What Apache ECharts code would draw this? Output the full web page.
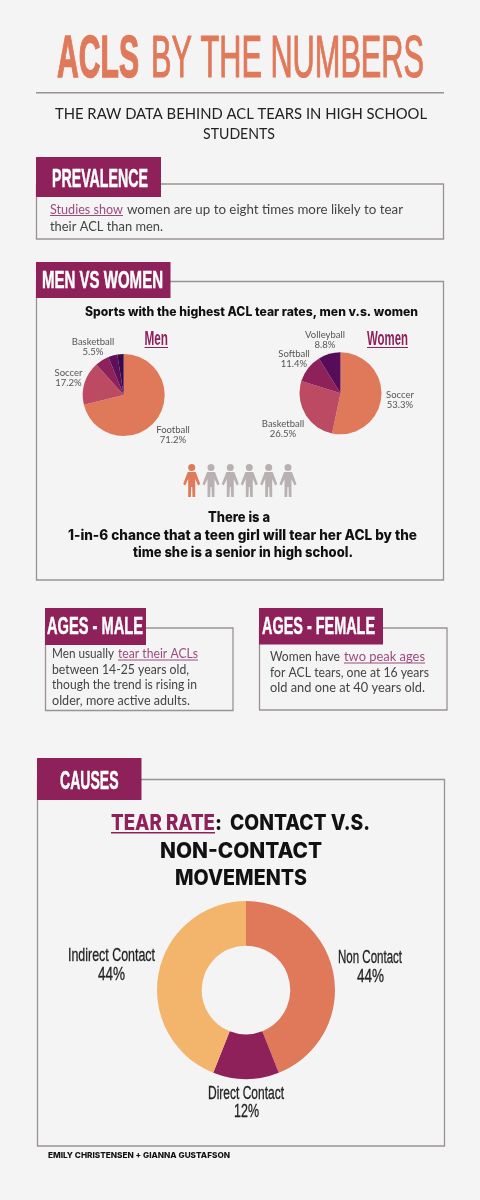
<!DOCTYPE html>
<html><head><meta charset="utf-8">
<style>html,body{margin:0;padding:0;background:#F4F4F4}#c{width:480px;height:1200px}</style>
<script src="https://cdn.jsdelivr.net/npm/echarts@6/dist/echarts.min.js"></script>
</head><body><div id="c"></div>
<script>
const menSports = ['Football','Soccer','Basketball','',''];
const menValues = [71.2,17.2,5.5,3.6,2.5];
const womenSports = ['Soccer','Basketball','Softball','Volleyball'];
const womenValues = [53.3,26.5,11.4,8.8];
const causeNames = ['Non Contact','Direct Contact','Indirect Contact'];
const causeValues = [44,12,44];
const menColors = ['#E0795A','#BC4A62','#8E2159','#5C0F5C','#3A0A48'];
const womenColors = ['#E0795A','#BC4A62','#8E2159','#560C58'];
const causeColors = ['#E0795A','#8E2159','#F2B56B'];
const peopleColors = ['#E0795A','#B9B1B1','#B9B1B1','#B9B1B1','#B9B1B1','#B9B1B1'];
const peopleX = [191.7,211,230.3,249.3,268.7,288];

const NARROW='"Liberation Sans"', BODY='Lato', HEAD='Inter';
const PLUM='#8E2159', LINK='#9C4A7C', EDGE='#9A9290', INK='#444', BLACK='#111';
const ctx=document.createElement('canvas').getContext('2d');
const g=[];
function T(str,x0,x1,yc,size,family,weight,fill,thick){
  ctx.font=`${weight} ${size}px ${family}`;
  const w=ctx.measureText(str).width;
  const style={text:str,fontSize:size,fontFamily:family,fontWeight:weight,fill,textAlign:'left',textVerticalAlign:'middle'};
  if(thick){style.stroke=fill;style.lineWidth=thick;}
  g.push({type:'text',x:x0,y:yc+0.05*size,scaleX:(x1-x0)/w,z:10,silent:true,style});
}
function R(x,y,w,h,fill,z){g.push({type:'rect',z:z||5,silent:true,shape:{x,y,width:w,height:h},style:{fill}});}
function B(x0,y0,x1,y1){g.push({type:'rect',z:1,silent:true,shape:{x:x0,y:y0,width:x1-x0,height:y1-y0},style:{fill:'none',stroke:EDGE,lineWidth:1.3}});}
function U(x0,x1,y,c,h){R(x0,y,x1-x0,h||1,c,9);}

// title
T('ACLS',57,139,57,60,NARROW,'bold','#E0795A',1.5);
T('BY THE NUMBERS',151,424,57,60,NARROW,'normal','#E0795A',1.2);
R(36,92,408,1.4,EDGE);
T('THE RAW DATA BEHIND ACL TEARS IN HIGH SCHOOL',55,427,113.5,15.5,BODY,'normal','#222');
T('STUDENTS',203,275,133.5,15.5,BODY,'normal','#222');
// prevalence
B(36.5,184,443.5,239);
R(36,157,125,40,PLUM);
T('PREVALENCE',52,148,178.5,26,NARROW,'bold','#fff',0.5);
T('Studies show',50,123,209,13.5,BODY,'normal',LINK); U(50,123,215,LINK);
T('women are up to eight times more likely to tear',127,403,209,13.5,BODY,'normal',INK);
T('their ACL than men.',50,163,225.5,13.5,BODY,'normal',INK);
// men vs women
B(36.5,281.5,443.5,580);
R(36,262,134.5,36,PLUM);
T('MEN VS WOMEN',42,163,280.5,24,NARROW,'bold','#fff',0.5);
T('Sports with the highest ACL tear rates, men v.s. women',85,418,311.5,12.5,HEAD,'800',BLACK);
T('Men',144.5,168,338.5,21,NARROW,'bold',PLUM); U(144.5,168,347,PLUM);
T('Women',367,408,338.5,21,NARROW,'bold',PLUM); U(367,408,347,PLUM);
const personShape=[[4.5,8],[12.5,8],[17,20],[15,21.5],[12,15],[12,33],[9.3,33],[9,23],[8,23],[7.7,33],[5,33],[5,15],[2,21.5],[0,20]];
peopleX.forEach((x,i)=>{
  const c=peopleColors[i], l=x-8.5;
  g.push({type:'circle',z:5,silent:true,shape:{cx:x,cy:467.5,r:3.5},style:{fill:c}});
  g.push({type:'polygon',z:5,silent:true,shape:{points:personShape.map(p=>[l+p[0],464+p[1]])},style:{fill:c}});
});
T('There is a',208,270,517,14,HEAD,'800',BLACK);
T('1-in-6 chance that a teen girl will tear her ACL by the',68,417,535,14,HEAD,'800',BLACK);
T('time she is a senior in high school.',133,353,552,14,HEAD,'800',BLACK);
// ages
B(45.5,628,233,710.5);
R(45,608,101,37,PLUM);
T('AGES - MALE',47,143,626.5,24,NARROW,'bold','#fff',0.5);
T('Men usually',52,114,653.5,13,BODY,'normal',INK);
T('tear their ACLs',118,198,653.5,13,BODY,'normal',LINK); U(118,198,659.5,LINK);
T('between 14-25 years old,',52,189,669.5,13,BODY,'normal',INK);
T('though the trend is rising in',52,197,684.5,13,BODY,'normal',INK);
T('older, more active adults.',52,190,700.5,13,BODY,'normal',INK);
B(259.5,628,447,710);
R(259,608,124,36.5,PLUM);
T('AGES - FEMALE',262,375,626.5,24,NARROW,'bold','#fff',0.5);
T('Women have',270,340,656.5,13,BODY,'normal',INK);
T('two peak ages',344,425,656.5,13,BODY,'normal',LINK); U(344,425,662.5,LINK);
T('for ACL tears, one at 16 years',270,429,672,13,BODY,'normal',INK);
T('old and one at 40 years old.',270,425,687.5,13,BODY,'normal',INK);
// causes
B(37.5,779.5,444.5,1146);
R(37,758,104.5,42,PLUM);
T('CAUSES',60,118.5,780.5,26,NARROW,'bold','#fff',0.5);
T('TEAR RATE',111,215,822.5,21.5,HEAD,'800',PLUM); U(111,215,832,PLUM,1.5);
T(':',215,222,822.5,21.5,HEAD,'800',BLACK);
T('CONTACT V.S.',230,370,822.5,21.5,HEAD,'800',BLACK);
T('NON-CONTACT',160,322,850.5,21.5,HEAD,'800',BLACK);
T('MOVEMENTS',175,307,877.5,21.5,HEAD,'800',BLACK);
T('EMILY CHRISTENSEN + GIANNA GUSTAFSON',48,230,1155.5,8,HEAD,'800',BLACK);
// donut labels, text taken from the data arrays
const causeLabelBoxes=[[338,402,957,357,384,976],[208,284,1093,234,259,1111.5],[68,155,955.5,98,125,974]];
causeNames.forEach((n,i)=>{
  const b=causeLabelBoxes[i];
  T(n,b[0],b[1],b[2]-0.5,19,NARROW,'normal','#222',0.3);
  T(causeValues[i]+'%',b[3],b[4],b[5]-0.5,19,NARROW,'normal','#222',0.3);
});

const menLabels=[[173,434.5],[68.5,378],[93,347]];
const womenLabels=[[400,400],[283,428.5],[294,359],[325,339.5]];
function mk(names,vals,cols,labelled){return names.map((n,i)=>({name:n,value:vals[i],itemStyle:{color:cols[i]},label:{show:labelled&&!!n},labelLine:{show:false}}));}
function smallPie(center,names,vals,cols,pos){return {type:'pie',center,radius:[0,41],startAngle:90,silent:true,animation:false,
  data:mk(names,vals,cols,true),
  label:{formatter:'{b}\n{c}%',fontFamily:BODY,fontSize:9.5,lineHeight:10,color:'#555',align:'center',overflow:'none'},
  labelLine:{show:false},
  labelLayout:p=>p.dataIndex<pos.length?{x:pos[p.dataIndex][0],y:pos[p.dataIndex][1],align:'center',verticalAlign:'middle',hideOverlap:false}:{}};}

const chart=echarts.init(document.getElementById('c'),null,{renderer:'canvas',width:480,height:1200});
chart.setOption({
  backgroundColor:'#F4F4F4',animation:false,
  graphic:{elements:g},
  series:[
    smallPie([123.7,395],menSports,menValues,menColors,menLabels),
    smallPie([340.5,393.3],womenSports,womenValues,womenColors,womenLabels),
    {type:'pie',center:[246,990],radius:[44.3,89],startAngle:90,silent:true,animation:false,
     data:mk(causeNames,causeValues,causeColors,false),
     label:{show:false},labelLine:{show:false}}
  ]
});
</script></body></html>
